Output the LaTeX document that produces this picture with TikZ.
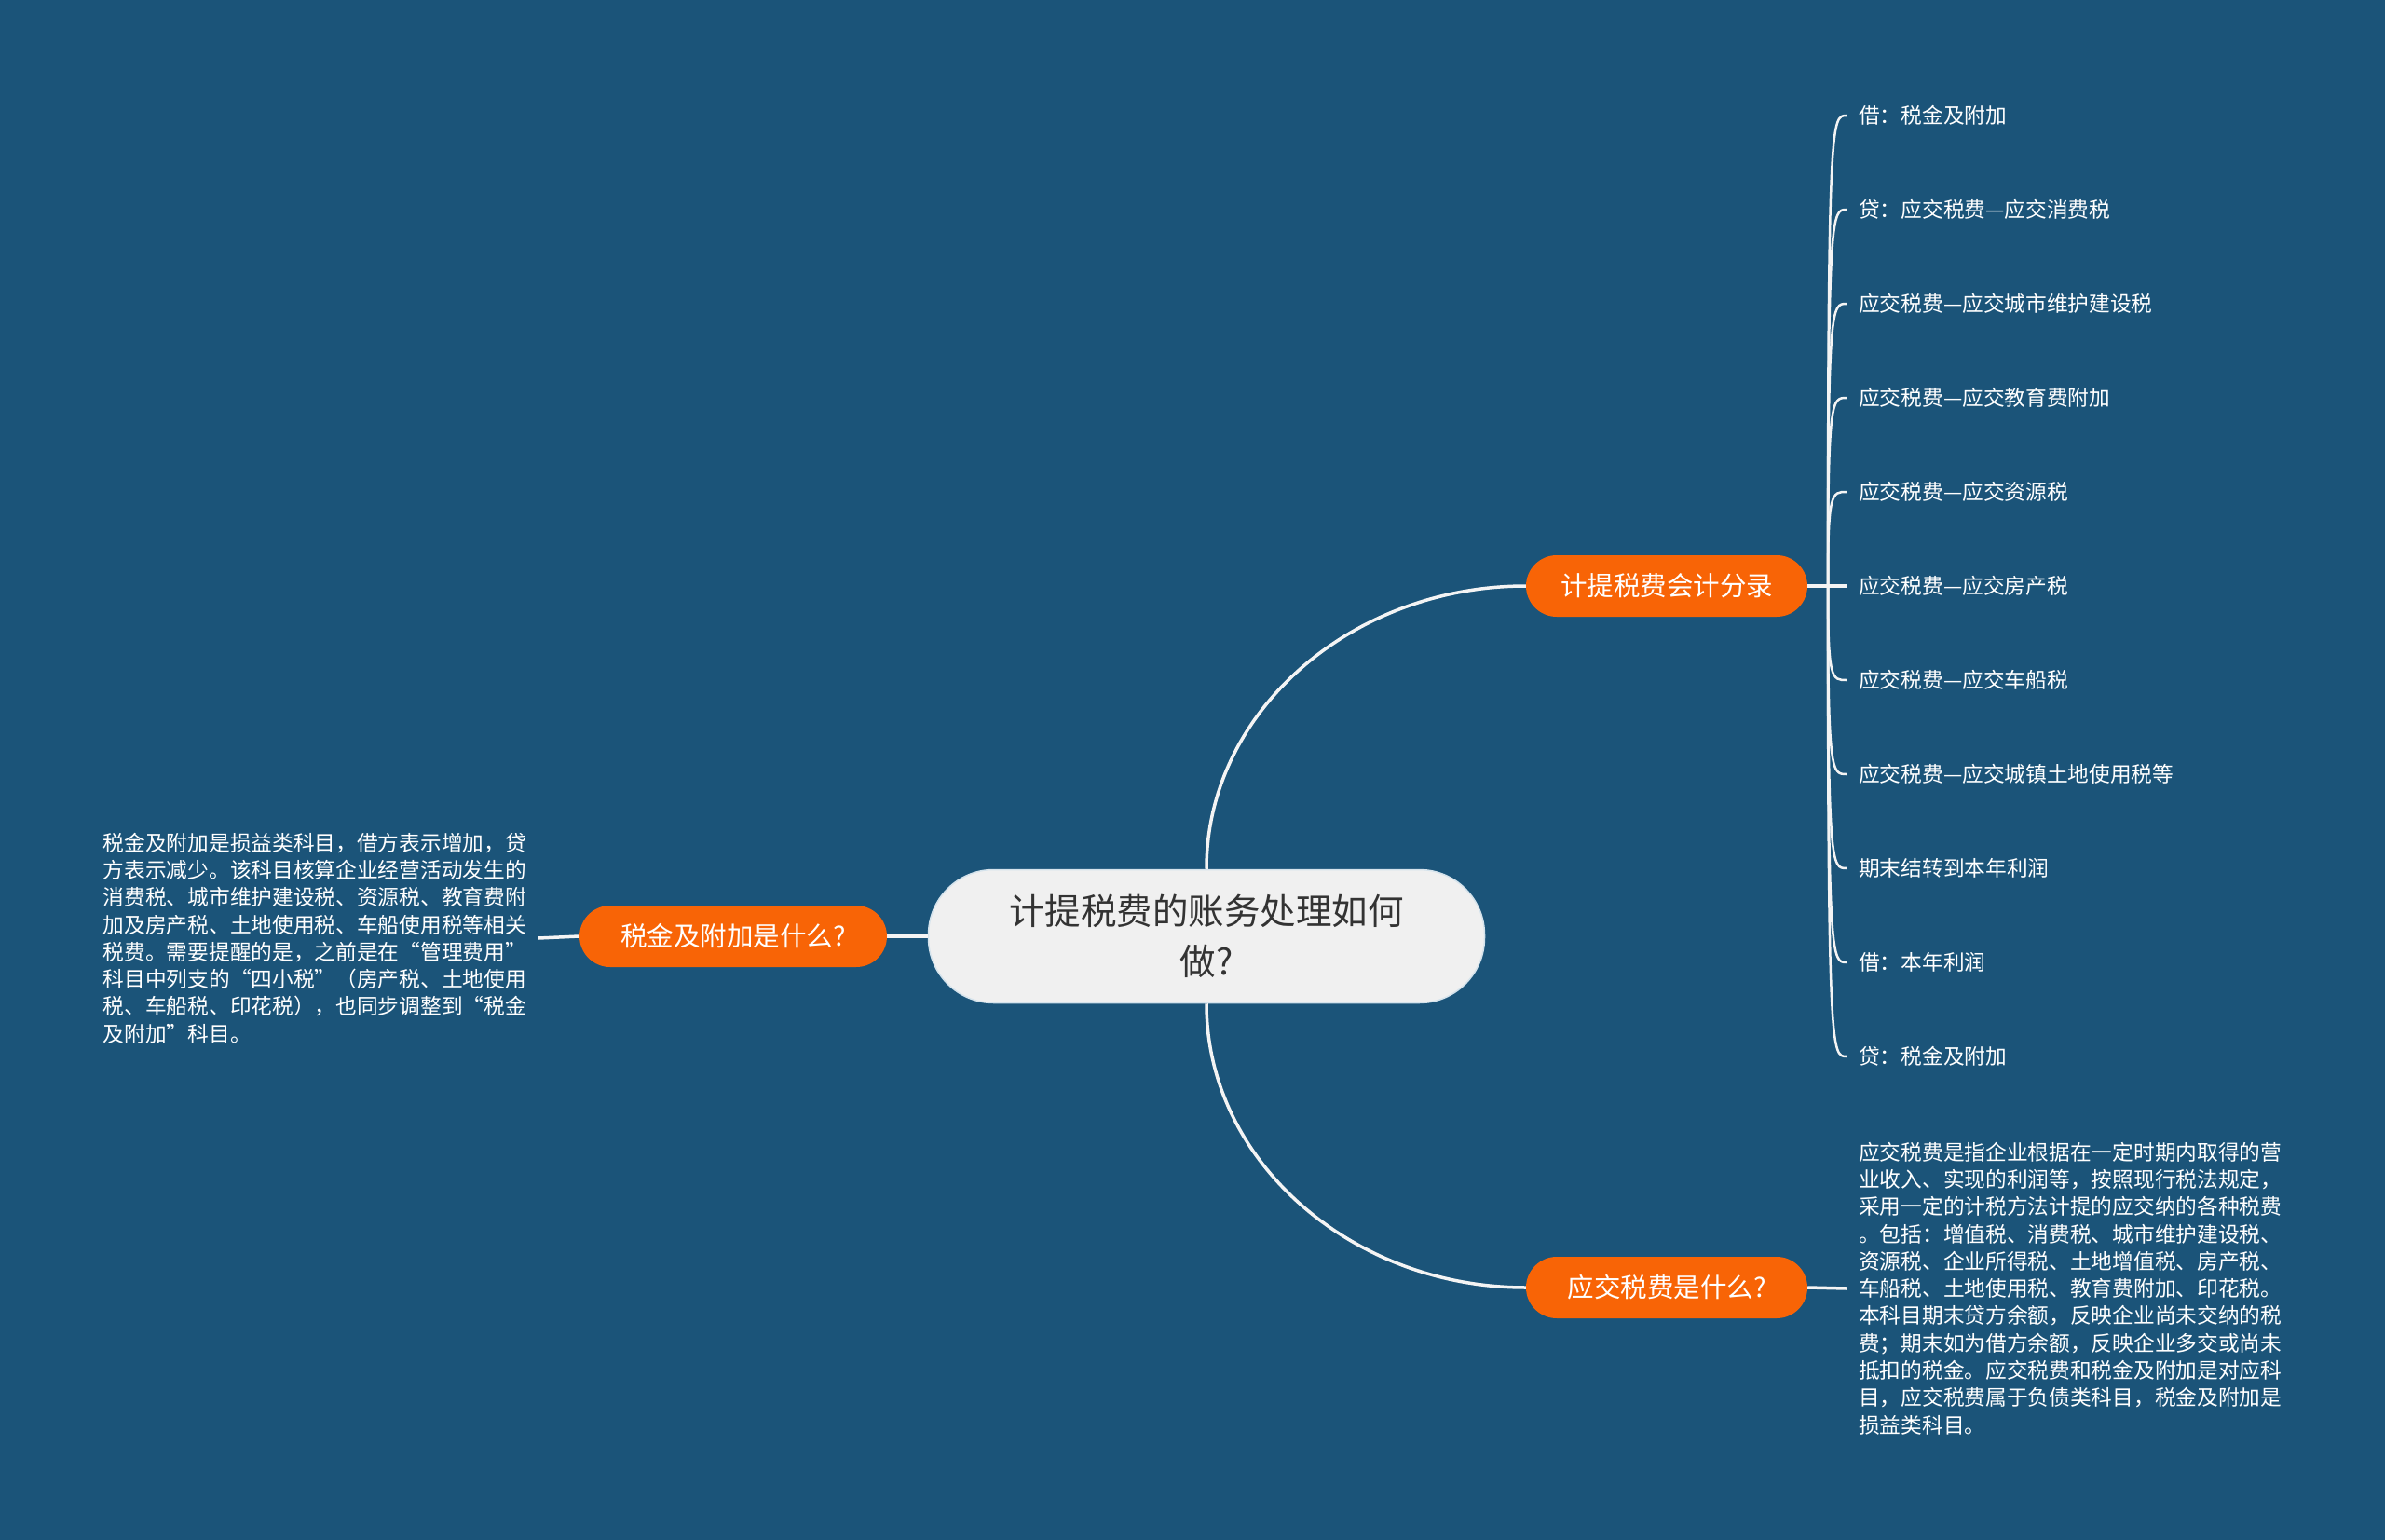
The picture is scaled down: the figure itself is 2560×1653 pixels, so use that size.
\documentclass[tikz,border=0pt]{standalone}
\usepackage{fontspec}
\setmainfont{Noto Sans CJK SC}
\definecolor{bgblue}{HTML}{1B5479}
\definecolor{orng}{HTML}{F86406}
\definecolor{rootfill}{HTML}{F0F0F0}
\definecolor{rootline}{HTML}{D5E3EC}
\definecolor{darktext}{HTML}{333333}
\definecolor{wline}{HTML}{F4F4F4}
\begin{document}
\begin{tikzpicture}[x=1pt,y=-1pt,
  rootnode/.style={fill=rootfill, draw=rootline, line width=1.5pt, rounded corners=70pt,
    minimum width=597pt, minimum height=143pt, align=center, text=darktext,
    font=\fontsize{38.5}{54}\selectfont, inner sep=0pt},
  branchnode/.style={fill=orng, rounded corners=33pt, minimum width=302pt, minimum height=66pt,
    text=white, font=\fontsize{28.5}{34}\selectfont, inner sep=0pt},
  leafnode/.style={text=white, font=\fontsize{22.7}{28}\selectfont, inner ysep=0pt, inner xsep=13pt, anchor=west},
  paranode/.style={text=white, font=\fontsize{22.7}{29.3}\selectfont, align=left, inner ysep=0pt, inner xsep=13pt},
  link/.style={draw=wline, line width=3.5pt},
  sublink/.style={draw=wline, line width=2.5pt}
]
\fill[bgblue] (0,0) rectangle (2560,1653);
\useasboundingbox (0,0) rectangle (2560,1653);

\node[rootnode] (root) at (1295,1005) {计提税费的账务处理如何\\做?};
\node[branchnode] (b1) at (1789,629) {计提税费会计分录};
\node[branchnode, minimum width=330pt] (b2) at (787,1005) {税金及附加是什么?};
\node[branchnode] (b3) at (1789,1382) {应交税费是什么?};

\node[paranode, anchor=east] (p1) at (578,1007) {税金及附加是损益类科目，借方表示增加，贷\\方表示减少。该科目核算企业经营活动发生的\\消费税、城市维护建设税、资源税、教育费附\\加及房产税、土地使用税、车船使用税等相关\\税费。需要提醒的是，之前是在“管理费用”\\科目中列支的“四小税”（房产税、土地使用\\税、车船税、印花税），也同步调整到“税金\\及附加”科目。};

\node[paranode, anchor=west] (p2) at (1982,1383) {应交税费是指企业根据在一定时期内取得的营\\业收入、实现的利润等，按照现行税法规定，\\采用一定的计税方法计提的应交纳的各种税费\\。包括：增值税、消费税、城市维护建设税、\\资源税、企业所得税、土地增值税、房产税、\\车船税、土地使用税、教育费附加、印花税。\\本科目期末贷方余额，反映企业尚未交纳的税\\费；期末如为借方余额，反映企业多交或尚未\\抵扣的税金。应交税费和税金及附加是对应科\\目，应交税费属于负债类科目，税金及附加是\\损益类科目。};

\coordinate (hub) at (1962,629);
\foreach \t [count=\i] in {借：税金及附加,贷：应交税费—应交消费税,应交税费—应交城市维护建设税,应交税费—应交教育费附加,应交税费—应交资源税,应交税费—应交房产税,应交税费—应交车船税,应交税费—应交城镇土地使用税等,期末结转到本年利润,借：本年利润,贷：税金及附加}{
  \node[leafnode] (c\i) at (1982,{23+101*\i}) {\t};
  \draw[sublink] (hub) .. controls (1962,{23+101*\i}) and (1966,{23+101*\i}) .. (c\i.west);
}

\draw[link] (root.north) .. controls +(0,-170) and +(-186,0) .. (b1.west);
\draw[link] (root.south) .. controls +(0,170) and +(-186,0) .. (b3.west);
\draw[link] (root.west) -- (b2.east);
\draw[link] (b2.west) -- (p1.east);
\draw[link] (b1.east) -- (c6.west);
\draw[link] (b3.east) -- (p2.west);
\end{tikzpicture}
\end{document}
